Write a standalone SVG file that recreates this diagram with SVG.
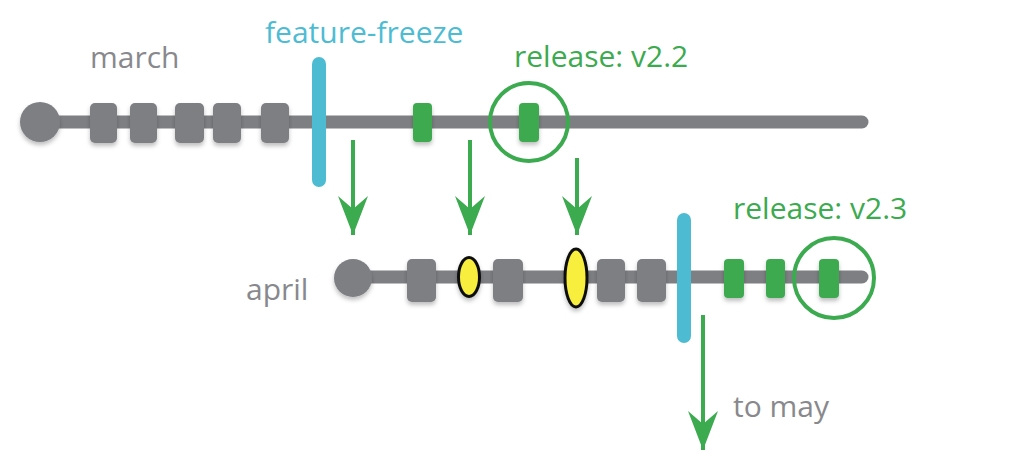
<svg xmlns="http://www.w3.org/2000/svg" width="1024" height="469" viewBox="0 0 1024 469">
<defs>
<style>
.track{stroke:#7e7f83;stroke-width:13;stroke-linecap:round;fill:none}
.start{fill:#7e7f83}
.commit{fill:#7e7f83}
.rel{fill:#3caa4f}
.ring{fill:none;stroke:#3caa4f;stroke-width:4}
.freeze{stroke:#4dbcd3;stroke-width:14;stroke-linecap:round}
.hot{fill:#f8ee3c;stroke:#111;stroke-width:3}
.flow{stroke:#3caa4f;stroke-width:4;fill:none;marker-end:url(#ah)}
.lbl{font-family:"Open Sans","Liberation Sans",sans-serif;font-size:30px;font-weight:500;fill:#88898d}
.blue{fill:#4dbcd3}
.green{fill:#3caa4f}
.sh{filter:url(#ds)}
</style>
<filter id="ds" x="-30%" y="-30%" width="160%" height="160%">
<feDropShadow dx="0" dy="3" stdDeviation="2" flood-color="#000" flood-opacity="0.25"/>
</filter>
<marker id="ah" markerUnits="userSpaceOnUse" markerWidth="40" markerHeight="32" viewBox="0 0 40 32" refX="39" refY="16" orient="auto">
<path d="M0,1 L39,16 L0,31 L13,16 Z" fill="#3caa4f"/>
</marker>
</defs>

<g id="march-branch">
<line class="track" x1="40" y1="122" x2="862" y2="122"/>
<circle class="start sh" cx="40" cy="122" r="20"/>
<text class="lbl" x="90" y="68">march</text>
<g class="sh">
<rect class="commit" x="90" y="103" width="27" height="40" rx="5"/>
<rect class="commit" x="130" y="103" width="27" height="40" rx="5"/>
<rect class="commit" x="175" y="103" width="29" height="40" rx="5"/>
<rect class="commit" x="213" y="103" width="28" height="40" rx="5"/>
<rect class="commit" x="261" y="103" width="28" height="40" rx="5"/>
<rect class="rel" x="413" y="103" width="19" height="39" rx="4"/>
<rect class="rel" x="519" y="103" width="20" height="39" rx="4"/>
</g>
</g>

<g id="feature-freeze-march">
<line class="freeze" x1="319" y1="64" x2="319" y2="180"/>
<text class="lbl blue" x="265" y="43">feature-freeze</text>
</g>

<g id="release-v2-2">
<circle class="ring" cx="529" cy="122" r="39"/>
<text class="lbl green" x="514" y="67">release: v2.2</text>
</g>

<g id="april-branch">
<line class="track" x1="353" y1="277" x2="862" y2="277"/>
<circle class="start sh" cx="353" cy="278" r="19"/>
<text class="lbl" x="246" y="300">april</text>
<g class="sh">
<rect class="commit" x="407" y="259" width="29" height="43" rx="5"/>
<rect class="commit" x="493" y="259" width="30" height="43" rx="5"/>
<rect class="commit" x="597" y="259" width="28" height="43" rx="5"/>
<rect class="commit" x="637" y="259" width="29" height="43" rx="5"/>
<ellipse class="hot" cx="469" cy="277" rx="10.5" ry="19.5"/>
<ellipse class="hot" cx="576" cy="278" rx="11" ry="29"/>
<rect class="rel" x="724" y="259" width="20" height="39" rx="4"/>
<rect class="rel" x="766" y="259" width="19" height="39" rx="4"/>
<rect class="rel" x="819" y="259" width="20" height="39" rx="4"/>
</g>
</g>

<g id="feature-freeze-april">
<line class="freeze" x1="684" y1="220" x2="684" y2="336"/>
</g>

<g id="release-v2-3">
<circle class="ring" cx="834" cy="278" r="40"/>
<text class="lbl green" x="733" y="219">release: v2.3</text>
</g>

<g id="to-may">
<text class="lbl" x="733" y="417">to may</text>
</g>

<g id="connectors">
<line class="flow" x1="353" y1="140" x2="353" y2="235"/>
<line class="flow" x1="470" y1="140" x2="470" y2="235"/>
<line class="flow" x1="577" y1="158" x2="577" y2="235"/>
<line class="flow" x1="703" y1="315" x2="703" y2="450"/>
</g>
</svg>
